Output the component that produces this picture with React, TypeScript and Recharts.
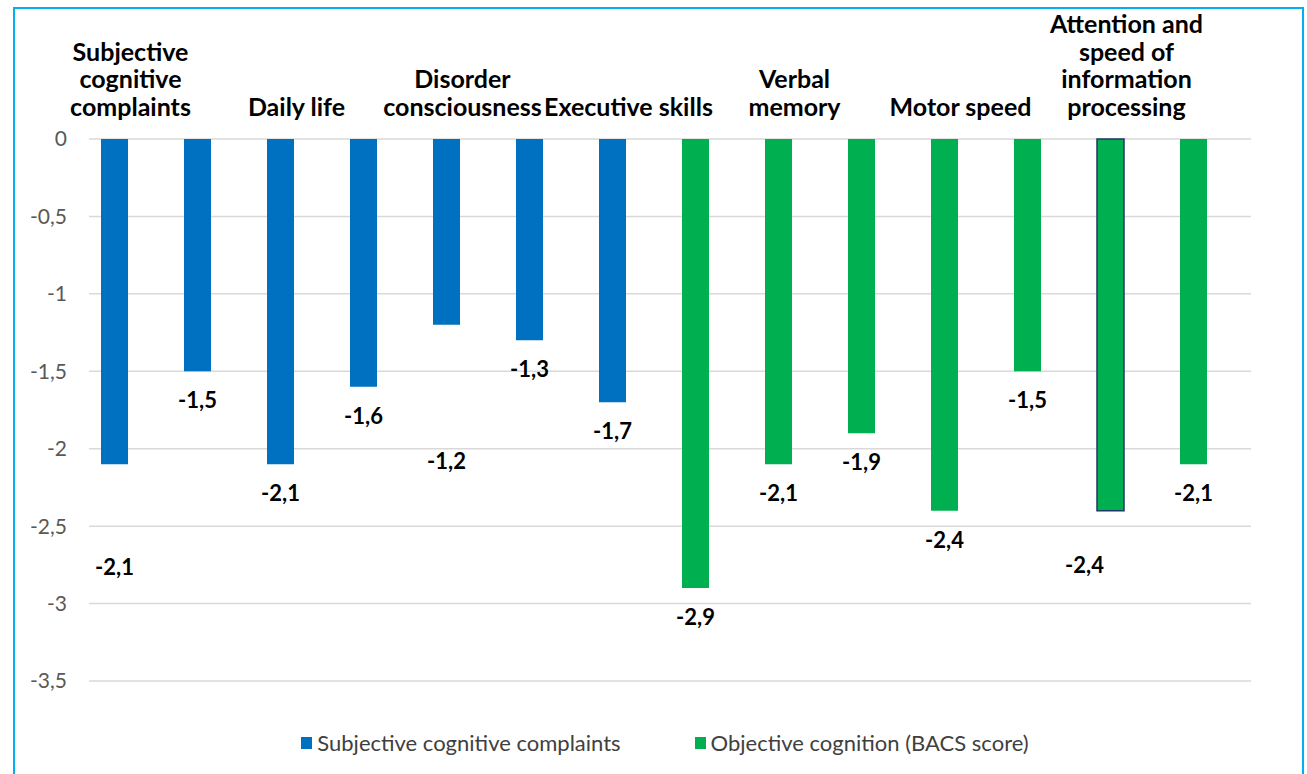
import React from 'react';
import { BarChart, Bar, XAxis, YAxis, CartesianGrid, Cell, LabelList, Legend } from 'recharts';

const CATEGORIES = [
  'Subjective\ncognitive\ncomplaints', '',
  'Daily life', '',
  'Disorder\nconsciousness', '',
  'Executive skills', '',
  'Verbal\nmemory', '',
  'Motor speed', '',
  'Attention and\nspeed of\ninformation\nprocessing', '',
];
const VALUES = [-2.1, -1.5, -2.1, -1.6, -1.2, -1.3, -1.7, -2.9, -2.1, -1.9, -2.4, -1.5, -2.4, -2.1];
const GROUPS = [0, 0, 0, 0, 0, 0, 0, 1, 1, 1, 1, 1, 1, 1];
const SERIES_NAMES = ['Subjective cognitive complaints', 'Objective cognition (BACS score)'];
const Y_TICKS = [0, -0.5, -1, -1.5, -2, -2.5, -3, -3.5];
const HIGHLIGHT_INDEX = 12;

const SERIES_COLORS = ['#0070C0', '#00B050'];
const LABEL_NUDGE: Record<number, { dx: number; dy: number }> = {
  0: { dx: 0, dy: 74 },
  4: { dx: 0, dy: 107 },
  12: { dx: -26, dy: 25 },
};
const FONT = 'Lato, "Open Sans", sans-serif';

const data = CATEGORIES.map((category, i) => ({
  category,
  value: VALUES[i],
  group: GROUPS[i],
  spacer: null as number | null,
}));

const fmt = (v: number) => {
  const s = Number.isInteger(v) ? String(v) : v.toFixed(1);
  return s.replace('.', ',');
};

const CategoryTick = (props: any) => {
  const { x, y, payload } = props;
  const lines = String(payload?.value ?? '').split('\n').filter(Boolean);
  if (!lines.length) return <g />;
  const lastBaseline = Number(y) - 23;
  return (
    <text textAnchor="middle" fontFamily={FONT} fontWeight={700} fontSize={25} fill="#000">
      {lines.map((l, i) => (
        <tspan key={i} x={x} y={lastBaseline - (lines.length - 1 - i) * 27.7}>
          {l}
        </tspan>
      ))}
    </text>
  );
};

const ValueLabel = (props: any) => {
  const { x, y, width, height, value, index } = props;
  if (value == null) return null;
  const top = Number(y);
  const h = Number(height);
  const bottom = Math.max(top, top + h);
  const n = LABEL_NUDGE[index] ?? { dx: 0, dy: 0 };
  return (
    <text
      x={Number(x) + Number(width) / 2 + n.dx}
      y={bottom + 29 + n.dy}
      dy="0.36em"
      textAnchor="middle"
      fontFamily={FONT}
      fontWeight={700}
      fontSize={22}
      fill="#000"
    >
      {fmt(Number(value))}
    </text>
  );
};

const LegendContent = () => (
  <div
    style={{
      position: 'absolute',
      top: 0,
      left: 0,
      width: 1330,
      display: 'flex',
      justifyContent: 'center',
      alignItems: 'center',
      gap: 74,
      fontFamily: FONT,
      fontSize: 22,
      lineHeight: '26px',
      color: '#404040',
    }}
  >
    {SERIES_NAMES.map((name, i) => (
      <div key={name} style={{ display: 'flex', alignItems: 'center' }}>
        <span style={{ display: 'inline-block', width: 11, height: 12, background: SERIES_COLORS[i], marginRight: 5 }} />
        <span>{name}</span>
      </div>
    ))}
  </div>
);

export default function App() {
  return (
    <div style={{ position: 'absolute', left: 0, top: 0, width: 1307, height: 774, overflow: 'hidden', background: '#fff' }}>
      <BarChart
        width={1307}
        height={774}
        data={data}
        margin={{ top: 19, left: 29, right: 56, bottom: 93 }}
        barGap={5}
      >
        <CartesianGrid horizontal vertical={false} stroke="#D9D9D9" strokeWidth={1.5} />
        <XAxis
          dataKey="category"
          orientation="top"
          height={120}
          interval={0}
          axisLine={false}
          tickLine={false}
          tickSize={0}
          tickMargin={0}
          tick={<CategoryTick />}
        />
        <YAxis
          type="number"
          domain={[-3.5, 0]}
          ticks={Y_TICKS}
          width={60}
          axisLine={false}
          tickLine={false}
          tickSize={0}
          tickMargin={22}
          tickFormatter={(v: number) => fmt(v)}
          tick={{ fontFamily: FONT, fontSize: 21, fill: '#595959' }}
        />
        <Legend
          content={<LegendContent />}
          wrapperStyle={{ top: 730, left: 0, width: 1330, height: 0 }}
        />
        <Bar dataKey="value" barSize={27} isAnimationActive={false}>
          {data.map((d, i) => (
            <Cell
              key={i}
              fill={SERIES_COLORS[d.group]}
              stroke={i === HIGHLIGHT_INDEX ? '#1F3864' : 'none'}
              strokeWidth={i === HIGHLIGHT_INDEX ? 1.5 : 0}
            />
          ))}
          <LabelList dataKey="value" content={<ValueLabel />} />
        </Bar>
        <Bar dataKey="spacer" barSize={27} isAnimationActive={false} fill="transparent" />
      </BarChart>
      <div
        style={{
          position: 'absolute',
          left: 13,
          top: 7,
          width: 1291,
          height: 830,
          border: '2px solid #00B0F0',
          boxSizing: 'border-box',
          pointerEvents: 'none',
        }}
      />
    </div>
  );
}
